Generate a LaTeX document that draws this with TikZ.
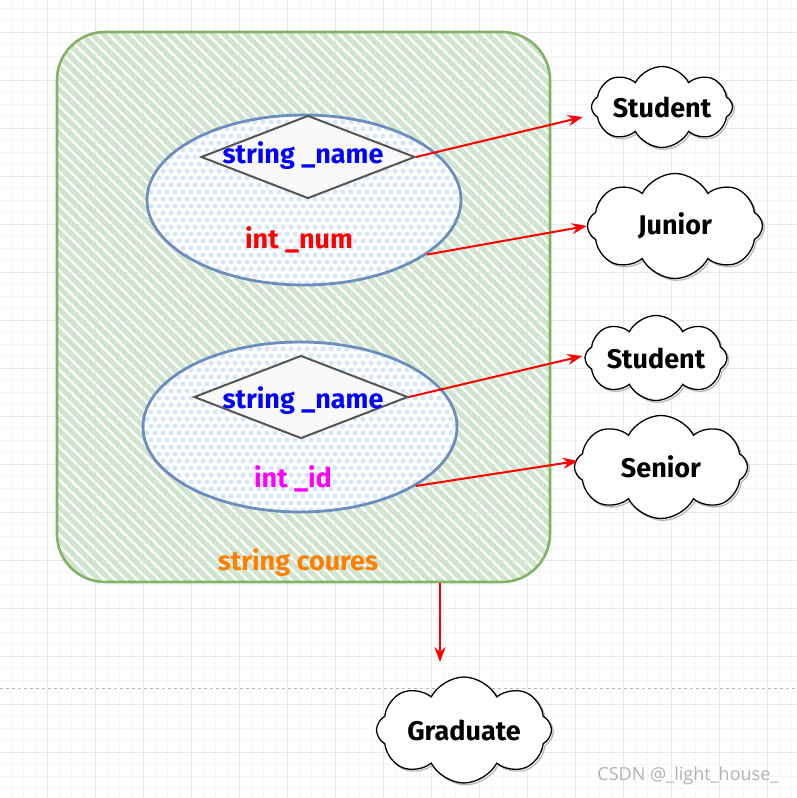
\documentclass[tikz,border=0pt]{standalone}
\usepackage{fontspec}
\setmainfont{Fira Sans}
\setsansfont{Open Sans}
\usepackage{tikz}
\usetikzlibrary{arrows.meta,positioning,shapes.geometric,shapes.symbols}
\definecolor{boxgreen}{HTML}{82B366}
\definecolor{hatchgreen}{HTML}{CFE5CD}
\definecolor{ovalblue}{HTML}{6C8EBF}
\definecolor{dotblue}{HTML}{D6E6FA}
\definecolor{diagray}{HTML}{555555}
\definecolor{fieldorange}{HTML}{FF8000}
\definecolor{fieldpink}{RGB}{255,0,255}
\definecolor{fieldblue}{RGB}{0,0,255}
\definecolor{fieldred}{RGB}{255,0,0}

\begin{document}
\begin{tikzpicture}[x=1pt, y=-1pt,
  minorgrid/.style={draw=gray!7, line width=0.6pt},
  majorgrid/.style={draw=gray!17, line width=0.8pt},
  container/.style={draw=boxgreen, line width=2.6pt, rounded corners=48pt, minimum width=493pt, minimum height=550pt,
    path picture={\foreach \k in {-561,-550,...,500}
      \draw[hatchgreen, line width=5pt] ([xshift=\k pt]path picture bounding box.north west) -- ++(650pt,-650pt);}},
  oval/.style={ellipse, draw=ovalblue, line width=2.8pt, fill=white, minimum width=314pt, minimum height=170pt, inner sep=0pt,
    path picture={\foreach \i in {0,8,...,320} \foreach \j in {0,7,...,176}
      \fill[dotblue] ([shift={({\i pt+mod(\j,2)*4pt},{-\j pt})}]path picture bounding box.north west) circle (2.5pt);}},
  member/.style={diamond, draw=diagray, line width=2pt, fill=gray!5, minimum width=214pt, minimum height=83pt, inner sep=0pt},
  field/.style={font=\fontsize{27}{30}\selectfont\bfseries},
  blob/.style={cloud, cloud puffs=8, cloud puff arc=125, cloud ignores aspect, draw=black, line width=1.3pt, fill=white, inner sep=0pt,
    font=\fontsize{27}{30}\selectfont\bfseries,
    preaction={draw=gray!55, line width=1.3pt, transform canvas={shift={(1.8pt,-1.8pt)}}}},
  link/.style={draw=fieldred, line width=2pt, -{Stealth[length=15pt, width=11pt]}}
]
\useasboundingbox (0,0) rectangle (797,798);
\fill[white] (0,0) rectangle (797,798);
% background grid
\foreach \x in {11,23,...,797} \draw[minorgrid] (\x,0) -- (\x,798);
\foreach \y in {8,20,...,798} \draw[minorgrid] (0,\y) -- (797,\y);
\foreach \x in {47,95,...,797} \draw[majorgrid] (\x,0) -- (\x,798);
\foreach \y in {32,80,...,798} \draw[majorgrid] (0,\y) -- (797,\y);
\draw[gray!55, dashed, line width=0.8pt] (0,688) -- (797,688);

% class box
\node[container] (box) at (303.5,307) {};
\node[oval] (e1) at (304,200) {};
\node[member] (d1) at (308,157) {};
\node[field, text=fieldblue] (name1) at (303,156) {string \_name};
\node[field, text=fieldred] (num) at (299,240) {int \_num};
\node[oval] (e2) at (300,427) {};
\node[member] (d2) at (301,397) {};
\node[field, text=fieldblue] (name2) at (303,401) {string \_name};
\node[field, text=fieldpink] (id) at (293,479) {int \_id};
\node[field, text=fieldorange] (coures) at (298,563) {string coures};

% clouds
\node[blob, minimum width=141pt, minimum height=81pt] (stu1) at (662,107) {Student};
\node[blob, minimum width=175pt, minimum height=105pt] (jun) at (675,226) {Junior};
\node[blob, minimum width=142pt, minimum height=85pt] (stu2) at (656,358) {Student};
\node[blob, minimum width=173pt, minimum height=103pt] (sen) at (661,467) {Senior};
\node[blob, minimum width=175pt, minimum height=106pt] (grad) at (464,730) {Graduate};

% arrows
\coordinate (gradin) at (440,662);
\draw[link] (d1.east) -- ([xshift=-8pt,yshift=-10pt]stu1.west);
\draw[link] (e1.-24) -- (jun.west);
\draw[link] (d2.east) -- ([xshift=-2pt,yshift=2pt]stu2.west);
\draw[link] (e2.-27) -- ([xshift=4pt,yshift=6pt]sen.west);
\draw[link] (box.south -| gradin) -- (gradin);

\node[font=\sffamily\fontsize{18}{20}\selectfont, text=gray!60, anchor=east] (mark) at (782,776) {CSDN @\_light\_house\_};
\end{tikzpicture}
\end{document}
